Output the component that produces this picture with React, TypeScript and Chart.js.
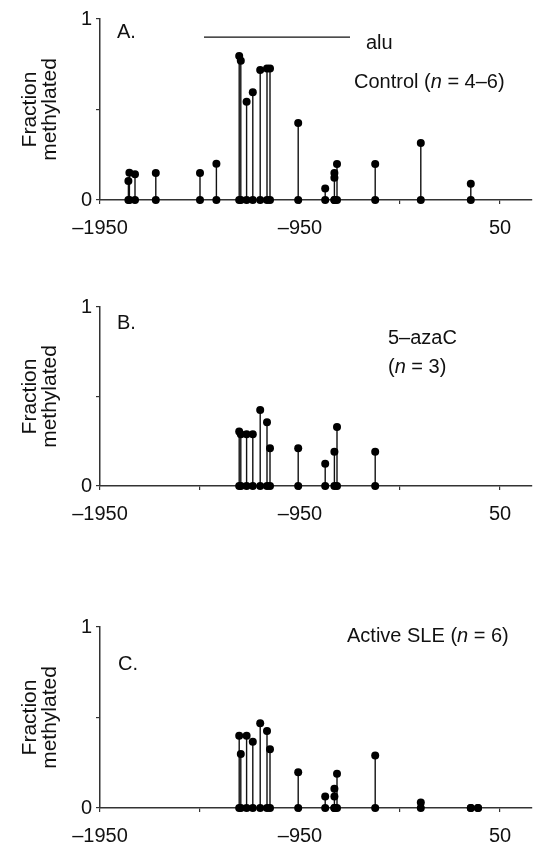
import React, { useEffect, useRef } from "react";
import { Chart, registerables } from "chart.js";
Chart.register(...registerables);

// ---- data ----
const xTicks = [-1950, -1450, -950, -450, 50];
const xLabelled = [-1950, -950, 50];
const yTicks = [0, 0.5, 1];
const yLabelled = [0, 1];
const xMin = -1950;
const xMax = 210;

const aluRange = [-1430, -700];
const aluLevel = 0.9;

const aPos = [-1808, -1803, -1775, -1671, -1450, -1368, -1254, -1246, -1217, -1186, -1149, -1115, -1100, -959, -824, -778, -778, -765, -574, -346, -96];
const aVal = [0.105, 0.15, 0.142, 0.149, 0.149, 0.2, 0.796, 0.77, 0.543, 0.595, 0.718, 0.727, 0.727, 0.425, 0.063, 0.149, 0.123, 0.199, 0.199, 0.315, 0.09];

const bPos = [-1254, -1246, -1217, -1186, -1149, -1115, -1100, -959, -824, -778, -765, -574];
const bVal = [0.304, 0.289, 0.289, 0.289, 0.424, 0.356, 0.211, 0.211, 0.125, 0.192, 0.33, 0.192];

const cPos = [-1254, -1246, -1217, -1186, -1149, -1115, -1100, -959, -824, -778, -778, -765, -574, -346, -96, -60];
const cVal = [0.399, 0.299, 0.399, 0.366, 0.468, 0.425, 0.325, 0.198, 0.063, 0.107, 0.063, 0.189, 0.29, 0.03, 0, 0];

const FONT = "'Liberation Sans', Arial, Helvetica, sans-serif";
const INK = "#111";

function stems(pos: number[], val: number[]) {
  const out: { x: number; y: number | null }[] = [];
  pos.forEach((p, i) => {
    out.push({ x: p, y: 0 });
    out.push({ x: p, y: val[i] });
    out.push({ x: p, y: null });
  });
  return out;
}

type PanelProps = {
  top: number;
  height: number;
  areaTop: number;
  areaBottom: number;
  pos: number[];
  val: number[];
  showAlu?: boolean;
};

function Panel({ top, height, areaTop, areaBottom, pos, val, showAlu }: PanelProps) {
  const ref = useRef<HTMLCanvasElement>(null);
  useEffect(() => {
    if (!ref.current) return;
    const datasets: any[] = [
      {
        data: stems(pos, val),
        borderColor: INK,
        borderWidth: 1.4,
        pointRadius: 4,
        pointBackgroundColor: "#000",
        pointBorderWidth: 0,
        showLine: true,
        spanGaps: false,
        clip: false,
      },
    ];
    if (showAlu) {
      datasets.push({
        data: [
          { x: aluRange[0], y: aluLevel },
          { x: aluRange[1], y: aluLevel },
        ],
        borderColor: INK,
        borderWidth: 1.3,
        pointRadius: 0,
        showLine: true,
      });
    }
    const chart = new Chart(ref.current, {
      type: "scatter",
      data: { datasets },
      options: {
        animation: false,
        responsive: false,
        maintainAspectRatio: false,
        layout: { padding: { top: areaTop, left: 0, right: 0, bottom: 0 } },
        plugins: { legend: { display: false }, tooltip: { enabled: false } },
        scales: {
          x: {
            type: "linear",
            min: xMin,
            max: xMax,
            afterBuildTicks: (s: any) => {
              s.ticks = xTicks.map((v) => ({ value: v }));
            },
            afterFit: (s: any) => {
              s.height = height - areaBottom;
            },
            ticks: {
              autoSkip: false,
              maxRotation: 0,
              padding: 12,
              color: INK,
              font: { size: 20, family: FONT },
              callback: (v: any) =>
                xLabelled.includes(Number(v))
                  ? Number(v) < 0
                    ? "\u2013" + Math.abs(Number(v))
                    : String(v)
                  : "",
            },
            grid: { drawOnChartArea: false, drawTicks: true, tickLength: 4, color: "#333", lineWidth: 1.2 },
            border: { display: true, color: "#333", width: 1.5 },
          },
          y: {
            type: "linear",
            min: 0,
            max: 1,
            afterBuildTicks: (s: any) => {
              s.ticks = yTicks.map((v) => ({ value: v }));
            },
            afterFit: (s: any) => {
              s.width = 100;
            },
            ticks: {
              padding: 4,
              color: INK,
              font: { size: 20, family: FONT },
              callback: (v: any) => (yLabelled.includes(Number(v)) ? String(v) : ""),
            },
            grid: { drawOnChartArea: false, drawTicks: true, tickLength: 4, color: "#333", lineWidth: 1.2 },
            border: { display: true, color: "#333", width: 1.5 },
            title: {
              display: true,
              text: ["Fraction", "methylated"],
              color: INK,
              font: { size: 21, family: FONT, lineHeight: 0.95 },
              padding: { top: 20, bottom: 0 },
            },
          },
        },
      },
    });
    return () => chart.destroy();
  }, []);
  return (
    <canvas
      ref={ref}
      width={536}
      height={height}
      style={{ position: "absolute", left: 0, top, width: 536, height }}
    />
  );
}

function Label({ x, y, size = 20, children }: { x: number; y: number; size?: number; children: any }) {
  return (
    <div
      style={{
        position: "absolute",
        left: x,
        top: y - size * 0.6,
        fontFamily: FONT,
        fontSize: size,
        lineHeight: 1.2 + "",
        color: INK,
        whiteSpace: "nowrap",
      }}
    >
      {children}
    </div>
  );
}

export default function App() {
  return (
    <div
      style={{
        position: "absolute",
        left: 0,
        top: 0,
        width: 536,
        height: 847,
        overflow: "hidden",
        background: "#fff",
      }}
    >
      <Panel top={0} height={250} areaTop={19} areaBottom={200} pos={aPos} val={aVal} showAlu />
      <Panel top={290} height={250} areaTop={17} areaBottom={196} pos={bPos} val={bVal} />
      <Panel top={597} height={250} areaTop={30} areaBottom={211} pos={cPos} val={cVal} />

      <Label x={117} y={31}>A.</Label>
      <Label x={366} y={42}>alu</Label>
      <Label x={354} y={81}>
        Control (<i>n</i> = 4–6)
      </Label>

      <Label x={117} y={322}>B.</Label>
      <Label x={388} y={337}>5–azaC</Label>
      <Label x={388} y={366}>
        (<i>n</i> = 3)
      </Label>

      <Label x={118} y={663}>C.</Label>
      <Label x={347} y={635}>
        Active SLE (<i>n</i> = 6)
      </Label>
    </div>
  );
}
